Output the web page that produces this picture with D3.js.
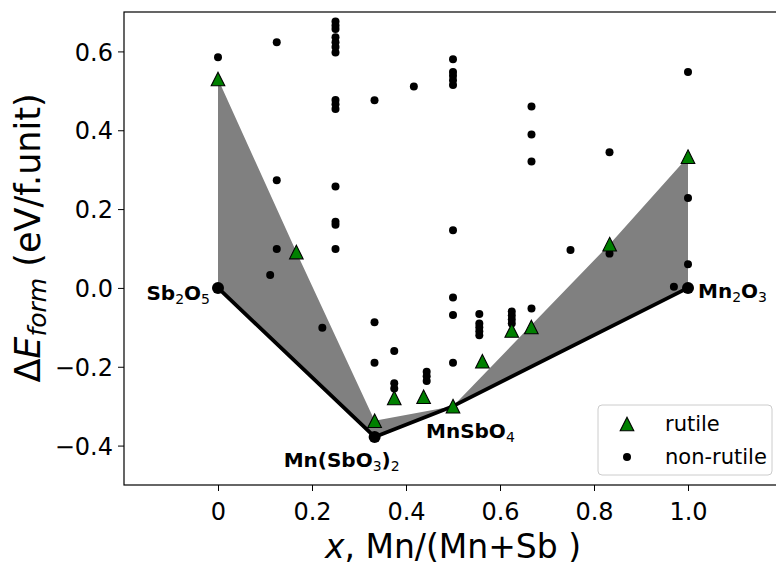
<!DOCTYPE html>
<html><head><meta charset="utf-8">
<script src="https://cdn.jsdelivr.net/npm/d3@7"></script>
<style>
body{margin:0;background:#fff;}
text{font-family:"DejaVu Sans",sans-serif;}
</style></head>
<body><svg id="c" width="776" height="567"></svg>
<script>
// ---- data ----
const nonRutileX = [0,0.111,0.125,0.125,0.125,0.222,
  0.25,0.25,0.25,0.25,0.25,0.25,0.25,0.25,0.25,0.25,0.25,0.25,0.25,0.25,
  0.333,0.333,0.333,0.375,0.375,0.375,0.4167,0.444,0.444,0.444,
  0.5,0.5,0.5,0.5,0.5,0.5,0.5,0.5,0.5,
  0.556,0.556,0.556,0.556,0.556,0.625,0.625,0.625,0.625,
  0.667,0.667,0.667,0.667,0.75,0.833,0.833,0.97,1,1,1];
const nonRutileY = [0.585,0.033,0.623,0.273,0.099,-0.101,
  0.676,0.666,0.657,0.636,0.623,0.611,0.597,0.477,0.466,0.454,0.257,0.168,0.160,0.099,
  0.476,-0.087,-0.19,-0.16,-0.242,-0.255,0.511,-0.213,-0.224,-0.236,
  0.58,0.548,0.538,0.527,0.515,0.146,-0.024,-0.069,-0.19,
  -0.066,-0.09,-0.10,-0.11,-0.12,-0.06,-0.07,-0.08,-0.09,
  0.46,0.389,0.321,-0.052,0.096,0.344,0.087,0.003,0.548,0.228,0.060];
const rutileX = [0,0.1667,0.3333,0.375,0.4375,0.5,0.5625,0.625,0.6667,0.8333,1];
const rutileY = [0.53,0.091,-0.337,-0.279,-0.276,-0.3,-0.186,-0.108,-0.099,0.111,0.333];
// lower hull of rutile structures
const rutileHullX = [0,0.1667,0.3333,0.5,0.8333,1];
const rutileHullY = [0.53,0.091,-0.337,-0.3,0.111,0.333];
// convex hull (ground states)
const hullX = [0,0.3333,0.5,1];
const hullY = [0,-0.378,-0.3,0];
const hullDotX = [0,0.3333,1];
const hullDotY = [0,-0.378,0];
const hullNames = ["Sb2O5","Mn(SbO3)2","MnSbO4","Mn2O3"];
const xTicks = [0,0.2,0.4,0.6,0.8,1.0];
const xTickLabels = ["0","0.2","0.4","0.6","0.8","1.0"];
const yTicks = [0.6,0.4,0.2,0.0,-0.2,-0.4];
const yTickLabels = ["0.6","0.4","0.2","0.0","\u22120.2","\u22120.4"];
const legendLabels = ["rutile","non-rutile"];

// ---- layout ----
const L=124,R=782,T=12,B=485;
const svg = d3.select("#c");
const x = d3.scaleLinear().domain([-0.2,1.2]).range([L,R]);
const y = d3.scaleLinear().domain([-0.5,0.7]).range([B,T]);

const g = svg.append("g");
// filled region between rutile hull and ground-state hull
const poly = rutileHullX.map((v,i)=>[x(v),y(rutileHullY[i])])
  .concat(hullX.map((v,i)=>[x(v),y(hullY[i])]).reverse());
g.append("path").attr("d", d3.line()(poly)+"Z").attr("fill","#808080").attr("stroke","none");

// hull line
g.append("path").attr("d", d3.line()(hullX.map((v,i)=>[x(v),y(hullY[i])])))
  .attr("fill","none").attr("stroke","#000").attr("stroke-width",3.8).attr("stroke-linejoin","round");

// non-rutile dots
g.selectAll("circle.nr").data(nonRutileX).enter().append("circle")
  .attr("cx",d=>x(d)).attr("cy",(d,i)=>y(nonRutileY[i])).attr("r",4).attr("fill","#000");
// hull big dots
g.selectAll("circle.h").data(hullDotX).enter().append("circle")
  .attr("cx",d=>x(d)).attr("cy",(d,i)=>y(hullDotY[i])).attr("r",6).attr("fill","#000");

// rutile triangles
const tri = s => `M0,${-s}L${s},${s}L${-s},${s}Z`;
g.selectAll("path.r").data(rutileX).enter().append("path")
  .attr("transform",(d,i)=>`translate(${x(d)},${y(rutileY[i])})`)
  .attr("d",tri(6.8)).attr("fill","#008000").attr("stroke","#000").attr("stroke-width",1.1);

// hull labels
function formula(sel, parts){
  parts.forEach(p=>{
    const t = sel.append("tspan").text(p[0]);
    if(p[1]) t.attr("font-size","14px").attr("font-weight","normal").attr("baseline-shift","-25%");
  });
}
const lab = [
  {i:0, dx:-8, dy:12, anchor:"end", parts:[["Sb"],["2",1],["O"],["5",1]]},
  {i:1, dx:-91, dy:30, anchor:"start", parts:[["Mn(SbO"],["3",1],[")"],["2",1]]},
  {i:2, dx:-27, dy:32, anchor:"start", parts:[["MnSbO"],["4",1]]},
  {i:3, dx:10, dy:10, anchor:"start", parts:[["Mn"],["2",1],["O"],["3",1]]}
];
lab.forEach(l=>{
  const t = g.append("text").attr("x",x(hullX[l.i])+l.dx).attr("y",y(hullY[l.i])+l.dy)
    .attr("text-anchor",l.anchor).attr("font-size","20px").attr("font-weight","bold").attr("fill","#000");
  formula(t,l.parts);
});

// axes
const xa = svg.append("g").attr("transform",`translate(0,${B})`)
  .call(d3.axisBottom(x).tickValues(xTicks).tickFormat((d,i)=>xTickLabels[i]).tickSize(6));
xa.select(".domain").remove();
xa.selectAll("text").attr("font-size","24px").attr("font-family","DejaVu Sans").attr("y",35).attr("dy",0).attr("fill","#000");
xa.selectAll("line").attr("stroke","#000");
const ya = svg.append("g").attr("transform",`translate(${L},0)`)
  .call(d3.axisLeft(y).tickValues(yTicks).tickFormat((d,i)=>yTickLabels[i]).tickSize(6));
ya.select(".domain").remove();
ya.selectAll("text").attr("font-size","24px").attr("font-family","DejaVu Sans").attr("x",-11).attr("dy","0.36em").attr("fill","#000");
ya.selectAll("line").attr("stroke","#000");
svg.append("rect").attr("x",L).attr("y",T).attr("width",R-L).attr("height",B-T)
  .attr("fill","none").attr("stroke","#000").attr("stroke-width",1.2);

// axis labels
const xl = svg.append("text").attr("x",(L+R)/2).attr("y",558).attr("text-anchor","middle")
  .attr("font-size","33px").attr("fill","#000");
xl.append("tspan").attr("font-style","italic").text("x");
xl.append("tspan").text(", Mn/(Mn+Sb )");
const yl = svg.append("text").attr("transform",`translate(40,238) rotate(-90)`)
  .attr("text-anchor","middle").attr("font-size","35px").attr("fill","#000");
yl.append("tspan").text("\u0394");
yl.append("tspan").attr("font-style","italic").text("E");
yl.append("tspan").attr("font-style","italic").attr("font-size","25px").attr("baseline-shift","-22%").text("form");
yl.append("tspan").text(" (eV/f.unit)");

// legend
const lg = svg.append("g");
lg.append("rect").attr("x",598).attr("y",405).attr("width",174).attr("height",70).attr("rx",4)
  .attr("fill","#fff").attr("fill-opacity",0.8).attr("stroke","#ccc").attr("stroke-width",1);
lg.append("path").attr("transform","translate(627,424)").attr("d",tri(6.8))
  .attr("fill","#008000").attr("stroke","#000").attr("stroke-width",1.1);
lg.append("circle").attr("cx",627).attr("cy",457).attr("r",4).attr("fill","#000");
lg.selectAll("text.l").data(legendLabels).enter().append("text")
  .attr("x",665).attr("y",(d,i)=>431+i*33).attr("font-size","21px").attr("fill","#000").text(d=>d);
</script></body></html>
